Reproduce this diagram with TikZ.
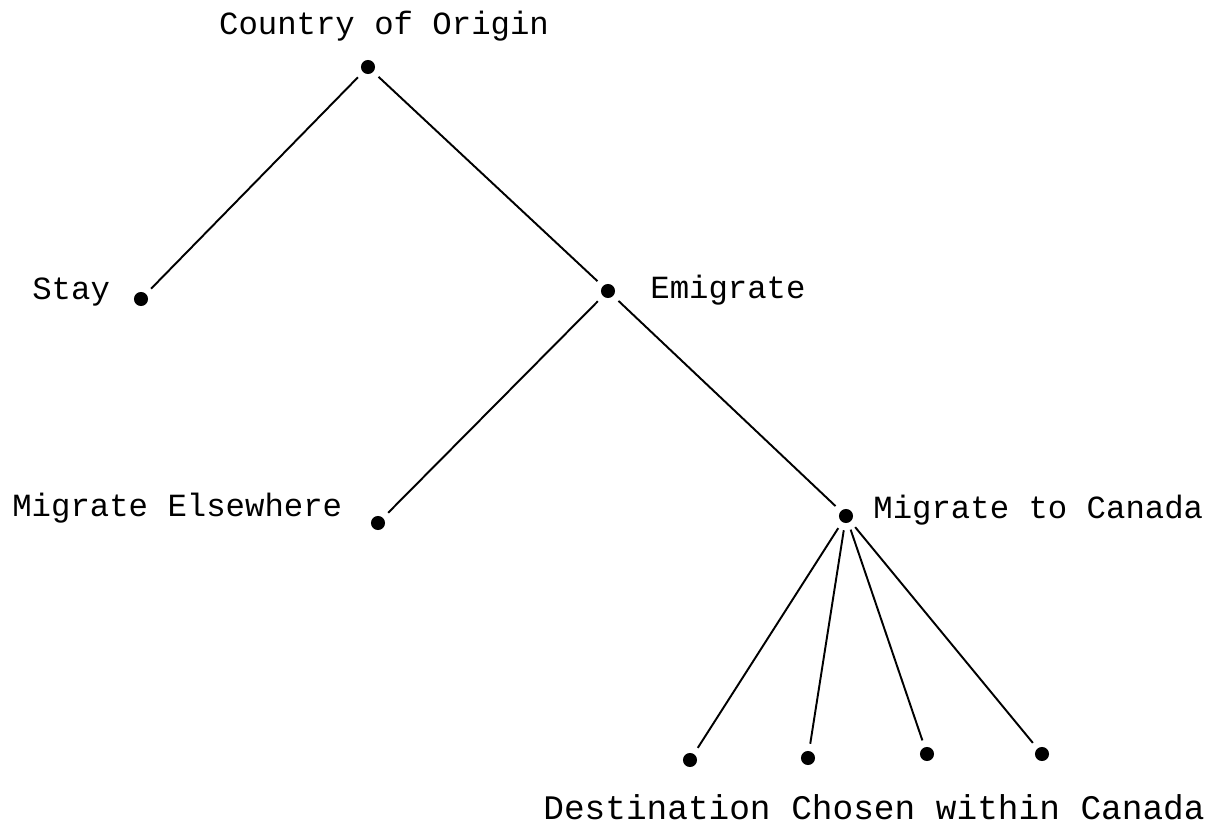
\documentclass[tikz,border=0pt]{standalone}
\usepackage{fontspec}
\setmainfont{Liberation Mono}
\begin{document}
\begin{tikzpicture}[x=0.02cm,y=-0.02cm,
  dot/.style={circle,fill=black,inner sep=0pt,minimum size=14\pgflinewidth},
  lab/.style={font=\fontsize{18.4}{20}\selectfont,inner sep=0pt},
  edge/.style={line width=1.1pt,shorten <=4pt,shorten >=4pt}]
\useasboundingbox (0,0) rectangle (1222,832);
\node[circle,fill=black,inner sep=0pt,minimum size=8pt] (root) at (368,67) {};
\node[circle,fill=black,inner sep=0pt,minimum size=8pt] (stay) at (141,299) {};
\node[circle,fill=black,inner sep=0pt,minimum size=8pt] (emig) at (608,291) {};
\node[circle,fill=black,inner sep=0pt,minimum size=8pt] (else) at (378,523) {};
\node[circle,fill=black,inner sep=0pt,minimum size=8pt] (can) at (846,516) {};
\node[circle,fill=black,inner sep=0pt,minimum size=8pt] (d1) at (690,760) {};
\node[circle,fill=black,inner sep=0pt,minimum size=8pt] (d2) at (808,758) {};
\node[circle,fill=black,inner sep=0pt,minimum size=8pt] (d3) at (927,754) {};
\node[circle,fill=black,inner sep=0pt,minimum size=8pt] (d4) at (1042,754) {};
\node[lab] (lroot) at (384,26) {Country of Origin};
\node[lab,anchor=west] (lstay) at (32,292) {Stay};
\node[lab,anchor=west] (lemig) at (650,290) {Emigrate};
\node[lab,anchor=west] (lelse) at (12,508) {Migrate Elsewhere};
\node[lab,anchor=west] (lcan) at (873,510) {Migrate to Canada};
\node[lab,font=\fontsize{19.6}{21}\selectfont] (ldest) at (874,807) {Destination Chosen within Canada};
\draw[edge] (root) -- (stay);
\draw[edge] (root) -- (emig);
\draw[edge] (emig) -- (else);
\draw[edge] (emig) -- (can);
\draw[edge] (can) -- (d1);
\draw[edge] (can) -- (d2);
\draw[edge] (can) -- (d3);
\draw[edge] (can) -- (d4);
\end{tikzpicture}
\end{document}
